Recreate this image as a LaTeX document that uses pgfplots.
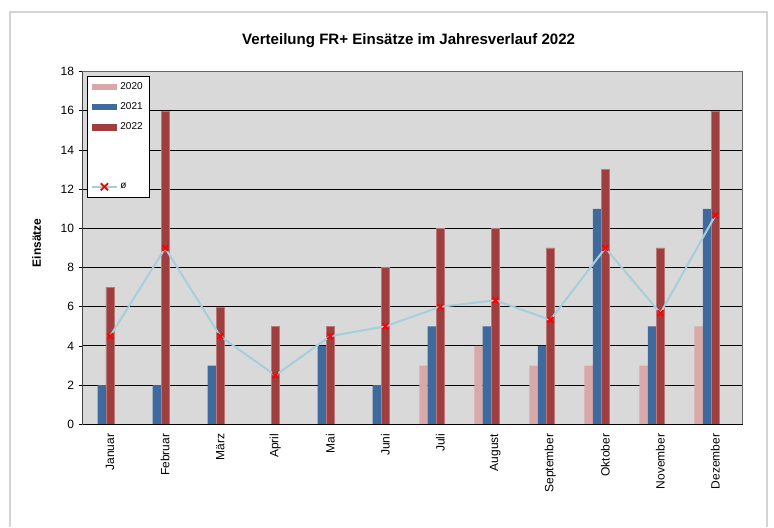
\documentclass[border=0pt]{standalone}
\usepackage{fontspec}
\setmainfont{Liberation Sans}
\usepackage{pgfplots}
\pgfplotsset{compat=1.18}

\definecolor{c2020}{HTML}{D9A9A9}
\definecolor{c2021}{HTML}{3E6A9E}
\definecolor{c2022}{HTML}{9E3E3E}
\definecolor{avgline}{HTML}{A6CEDC}
\definecolor{plotbg}{HTML}{D9D9D9}
\definecolor{frame}{HTML}{D4D4D4}

\begin{document}
\begin{tikzpicture}
  % page size 774 x 527 px at 0.75 pt per px
  \path (0pt,0pt) rectangle (580.5pt,395.25pt);
  \draw[frame, line width=0.8pt] (7.5pt,0pt) -- (7.5pt,386.25pt) -- (575.25pt,386.25pt) -- (575.25pt,0pt);
  \node[font=\bfseries\fontsize{11.3}{13}\selectfont] at (306.5pt,365pt) {Verteilung FR+ Einsätze im Jahresverlauf 2022};
  \node[font=\bfseries\fontsize{9}{11}\selectfont, rotate=90] at (27.5pt,213pt) {Einsätze};

  \begin{axis}[
      at={(62pt,77pt)}, anchor=south west,
      scale only axis,
      width=495.2pt,
      height=264.5pt,
      xmin=-0.5, xmax=11.5,
      ymin=0, ymax=18,
      ytick={0,2,...,18},
      xtick={0,...,11},
      xticklabels={Januar,Februar,März,April,Mai,Juni,Juli,August,September,Oktober,November,Dezember},
      minor xtick={-0.5,0.5,...,11.5},
      xtick style={draw=none},
      minor tick style={black, line width=0.6pt},
      minor tick length=3.8pt,
      ytick style={black, line width=0.6pt},
      major tick length=3pt,
      tick align=outside,
      xtick pos=bottom, ytick pos=left,
      xticklabel style={rotate=90, anchor=east, font=\fontsize{9}{11}\selectfont, xshift=-0.5pt},
      yticklabel style={font=\fontsize{9}{11}\selectfont},
      /pgf/number format/assume math mode=true,
      ymajorgrids=true,
      grid style={black, line width=0.7pt},
      axis line style={draw=gray!80!black, line width=0.7pt},
      axis background/.style={fill=plotbg},
      legend style={at={(0.006,0.9886)}, anchor=north west, draw=black, fill=white,
        font=\fontsize{7.5}{9}\selectfont, row sep=4.3pt, inner xsep=3pt, inner ysep=3pt,
        line width=0.7pt},
      legend cell align=left,
  ]
    \addplot[ybar, bar width=6.3pt, bar shift=-12.6pt, fill=c2020, draw=none,
      legend image code/.code={\fill[c2020] (0pt,-2.2pt) rectangle (18.5pt,2.2pt);}]
      coordinates {(6,3) (7,4) (8,3) (9,3) (10,3) (11,5)};
    \addlegendentry{2020}
    \addplot[ybar, bar width=6.3pt, bar shift=-6.3pt, fill=c2021, draw=none,
      legend image code/.code={\fill[c2021] (0pt,-2.2pt) rectangle (18.5pt,2.2pt);}]
      coordinates {(0,2) (1,2) (2,3) (4,4) (5,2) (6,5) (7,5) (8,4) (9,11) (10,5) (11,11)};
    \addlegendentry{2021}
    \addplot[ybar, bar width=6.3pt, bar shift=0pt, fill=c2022, draw=c2022!70!white, line width=0.4pt,
      legend image code/.code={\fill[c2022] (0pt,-2.2pt) rectangle (18.5pt,2.2pt);}]
      coordinates {(0,7) (1,16) (2,6) (3,5) (4,5) (5,8) (6,10) (7,10) (8,9) (9,13) (10,9) (11,16)};
    \addlegendentry{2022}
    \addlegendimage{empty legend}
    \addlegendentry{\phantom{2020}}
    \addlegendimage{empty legend}
    \addlegendentry{\phantom{2020}}
    \addplot[avgline, line width=1.5pt, mark=x, mark size=3pt,
      mark options={red, line width=1.4pt},
      legend image code/.code={
        \draw[avgline, line width=1.5pt] (0pt,0pt) -- (18.5pt,0pt);
        \draw[red, line width=1.4pt] (6.5pt,-2.6pt) -- (12pt,2.6pt) (6.5pt,2.6pt) -- (12pt,-2.6pt);}]
      coordinates {(0,4.5) (1,9) (2,4.5) (3,2.5) (4,4.5) (5,5) (6,6) (7,6.33) (8,5.33) (9,9) (10,5.67) (11,10.67)};
    \addlegendentry{ø}
    \draw[black, line width=0.7pt] (rel axis cs:0,0) -- (rel axis cs:0,1);
    \draw[black, line width=0.7pt] (rel axis cs:0,0) -- (rel axis cs:1,0);
  \end{axis}
\end{tikzpicture}
\end{document}
